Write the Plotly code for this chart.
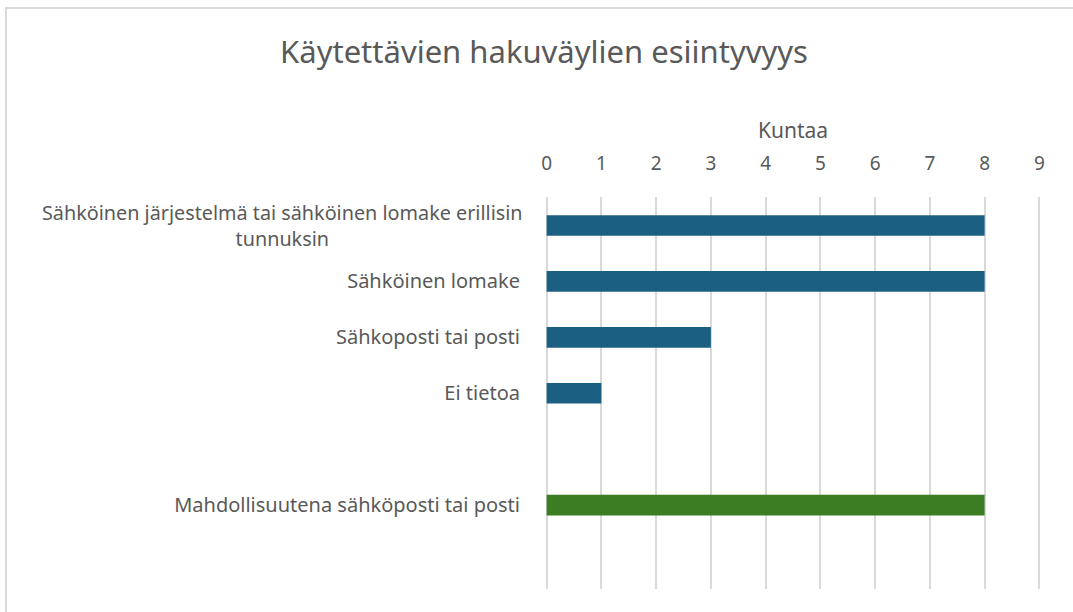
import plotly.graph_objects as go

categories = [
    "Sähköinen järjestelmä tai sähköinen lomake erillisin<br>tunnuksin",
    "Sähköinen lomake",
    "Sähkoposti tai posti",
    "Ei tietoa",
    " ",
    "Mahdollisuutena sähköposti tai posti",
    "  ",
]
values = [8, 8, 3, 1, None, 8, None]
bar_colors = ["#1b6082", "#1b6082", "#1b6082", "#1b6082", "#1b6082", "#3c7d23", "#3c7d23"]
x_ticks = list(range(0, 10))

W, H = 1073, 612
L, R, T, B = 545, 1041, 197, 589
TXT = "#595959"
FONT = "Noto Sans, sans-serif"

fig = go.Figure()
fig.add_trace(go.Bar(
    x=values, y=categories, orientation="h",
    marker=dict(color=bar_colors, line=dict(width=0)),
    width=0.37,
))

def px_x(p):
    return (p - L) / (R - L)

def px_y(p):
    return (B - p) / (B - T)

fig.add_shape(type="rect", xref="paper", yref="paper",
              x0=px_x(6), x1=px_x(1090), y0=px_y(625), y1=px_y(8),
              line=dict(color="#d9d9d9", width=2), fillcolor="rgba(0,0,0,0)", layer="below")

# wrapped labels drawn as centred annotations (tick text left blank for them)
ticktext = []
for c in categories:
    if "<br>" in c:
        ticktext.append("")
        fig.add_annotation(text=c, x=0, xref="paper", xanchor="right", xshift=-20,
                           y=c, yref="y", yanchor="middle", yshift=0, align="center",
                           showarrow=False, font=dict(family=FONT, size=19.8, color=TXT))
    else:
        ticktext.append(c)

fig.update_layout(
    width=W, height=H,
    margin=dict(l=L, r=W - R, t=T, b=H - B, pad=0),
    paper_bgcolor="white", plot_bgcolor="white",
    font=dict(family=FONT, color=TXT, size=19),
    title=dict(text="Käytettävien hakuväylien esiintyvyys", x=0.507, xanchor="center",
               y=1 - 52 / H, yanchor="middle",
               font=dict(size=31, color=TXT)),
    showlegend=False,
    bargap=0.63,
    xaxis=dict(side="top", range=[-0.03, 9.03], tickvals=x_ticks, showgrid=True,
               gridcolor="#d9d9d9", gridwidth=1.5, zeroline=False, showline=False,
               ticks="outside", ticklen=18, tickcolor="rgba(0,0,0,0)",
               tickfont=dict(size=19, color=TXT),
               title=dict(text="Kuntaa", font=dict(size=21, color=TXT), standoff=6)),
    yaxis=dict(categoryorder="array", categoryarray=categories, autorange="reversed",
               tickmode="array", tickvals=categories, ticktext=ticktext,
               showgrid=False, zeroline=False, showline=False,
               ticks="outside", ticklen=20, tickcolor="rgba(0,0,0,0)",
               tickfont=dict(size=20, color=TXT)),
)

fig.write_html("out.html", config={"displayModeBar": False},
               post_script="document.body.style.margin='0';")
